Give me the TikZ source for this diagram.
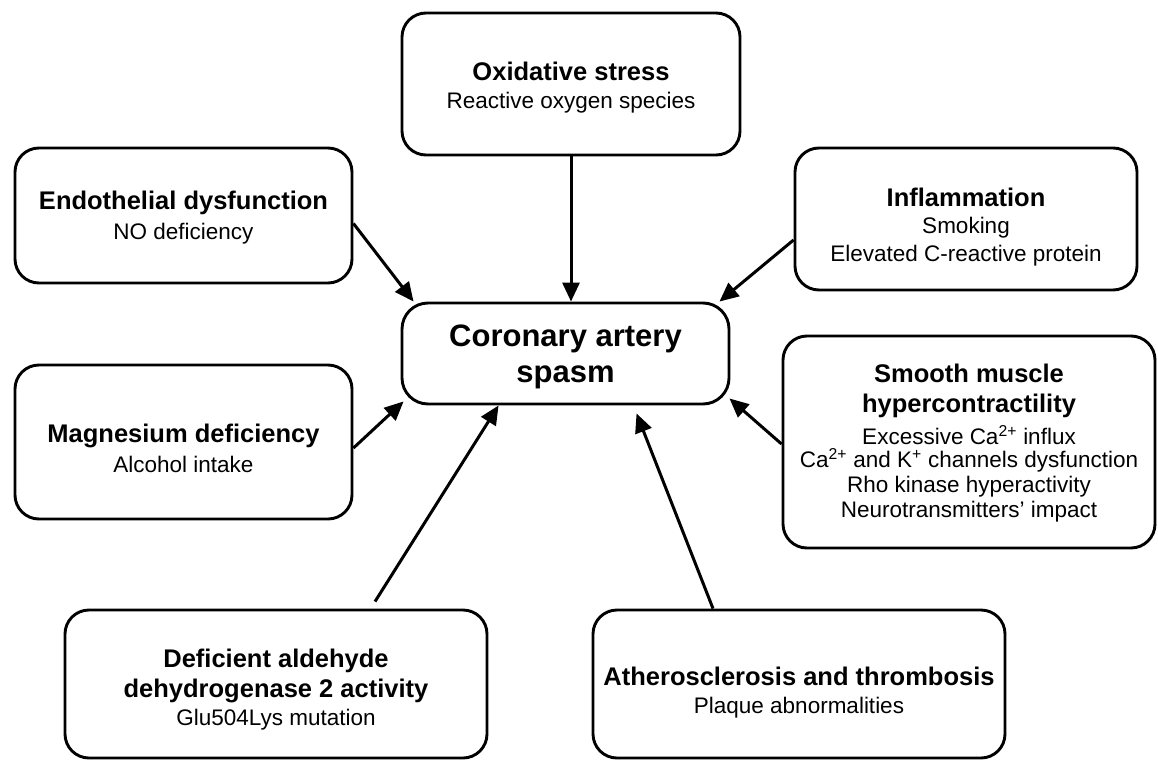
\documentclass[tikz,border=0pt]{standalone}
\usepackage{fontspec}
\setmainfont{Liberation Sans}
\usetikzlibrary{arrows.meta,positioning}
\newcommand{\mytitle}[1]{{\fontsize{25.5}{28}\selectfont\bfseries #1}}
\newcommand{\mysub}[1]{{\fontsize{22.5}{28}\selectfont #1}}
\begin{document}
\begin{tikzpicture}[x=1pt,y=-1pt,
  box/.style={draw=black,line width=2.9pt,rounded corners=24pt,fill=white,inner sep=0pt},
  txt/.style={align=center,inner sep=0pt,font=\fontsize{22.5}{28}\selectfont},
  arr/.style={line width=3pt,-{Triangle[length=19pt,width=17pt]}},
]
\useasboundingbox[fill=white] (0,0) rectangle (1158,760);
\node[box,minimum width=338pt,minimum height=142pt] (ox) at (571,84) {};
\node[txt] (oxt) at ([yshift=-4pt]ox.center)
  {\mytitle{Oxidative stress}\\\mysub{Reactive oxygen species}};
\node[box,minimum width=337pt,minimum height=135pt] (endo) at (183.5,215.5) {};
\node[txt] (endot) at ([yshift=-2pt]endo.center)
  {\mytitle{Endothelial dysfunction}\\[2pt]\mysub{NO deficiency}};
\node[box,minimum width=342pt,minimum height=142pt] (infl) at (966,219) {};
\node[txt] (inflt) at ([yshift=-8pt]infl.center)
  {\mytitle{Inflammation}\\[-1pt]\mysub{Smoking}\\\mysub{Elevated C-reactive protein}};
\node[box,minimum width=327pt,minimum height=101pt,rounded corners=26pt] (cor) at (565.5,353.5) {};
\node[txt,font=\fontsize{31}{36}\selectfont\bfseries] (cort) at ([yshift=-3pt]cor.center)
  {Coronary artery\\spasm};
\node[box,minimum width=337pt,minimum height=154pt] (mag) at (183.5,442) {};
\node[txt] (magt) at ([yshift=-6pt]mag.center)
  {\mytitle{Magnesium deficiency}\\[2pt]\mysub{Alcohol intake}};
\node[box,minimum width=372pt,minimum height=212pt] (sm) at (969,442) {};
\node[txt] (smt) at ([yshift=-1pt]sm.center)
  {\mytitle{Smooth muscle}\\[2pt]\mytitle{hypercontractility}\\[4pt]
   \mysub{Excessive Ca\textsuperscript{2+} influx}\\[-5pt]
   \mysub{Ca\textsuperscript{2+} and K\textsuperscript{+} channels dysfunction}\\[-3pt]
   \mysub{Rho kinase hyperactivity}\\[-3pt]
   \mysub{Neurotransmitters' impact}};
\node[box,minimum width=422pt,minimum height=148pt] (def) at (276,684) {};
\node[txt] (deft) at ([yshift=-6pt]def.center)
  {\mytitle{Deficient aldehyde}\\[2pt]\mytitle{dehydrogenase 2 activity}\\\mysub{Glu504Lys mutation}};
\node[box,minimum width=412pt,minimum height=148pt] (ath) at (799,684) {};
\node[txt] (atht) at ([yshift=-9pt]ath.center)
  {\mytitle{Atherosclerosis and thrombosis}\\\mysub{Plaque abnormalities}};

\draw[arr] (ox.south) -- (ox.south |- cor.north);
\draw[arr] ([yshift=-8pt]endo.east) -- ([xshift=13pt]cor.north west);
\draw[arr] ([yshift=-21pt]infl.west) -- ([xshift=-11pt]cor.north east);
\draw[arr] ([yshift=-6pt]mag.east) -- ([xshift=3pt,yshift=4pt]cor.south west);
\draw[arr] ([yshift=-2pt]sm.west) -- ([xshift=-1pt,yshift=7pt]cor.south east);
\draw[arr] ([xshift=99pt,yshift=7pt]def.north) -- ([xshift=98pt]cor.south west);
\draw[arr] ([xshift=-86pt]ath.north) -- ([xshift=236pt,yshift=-8pt]cor.south west);
\end{tikzpicture}
\end{document}
